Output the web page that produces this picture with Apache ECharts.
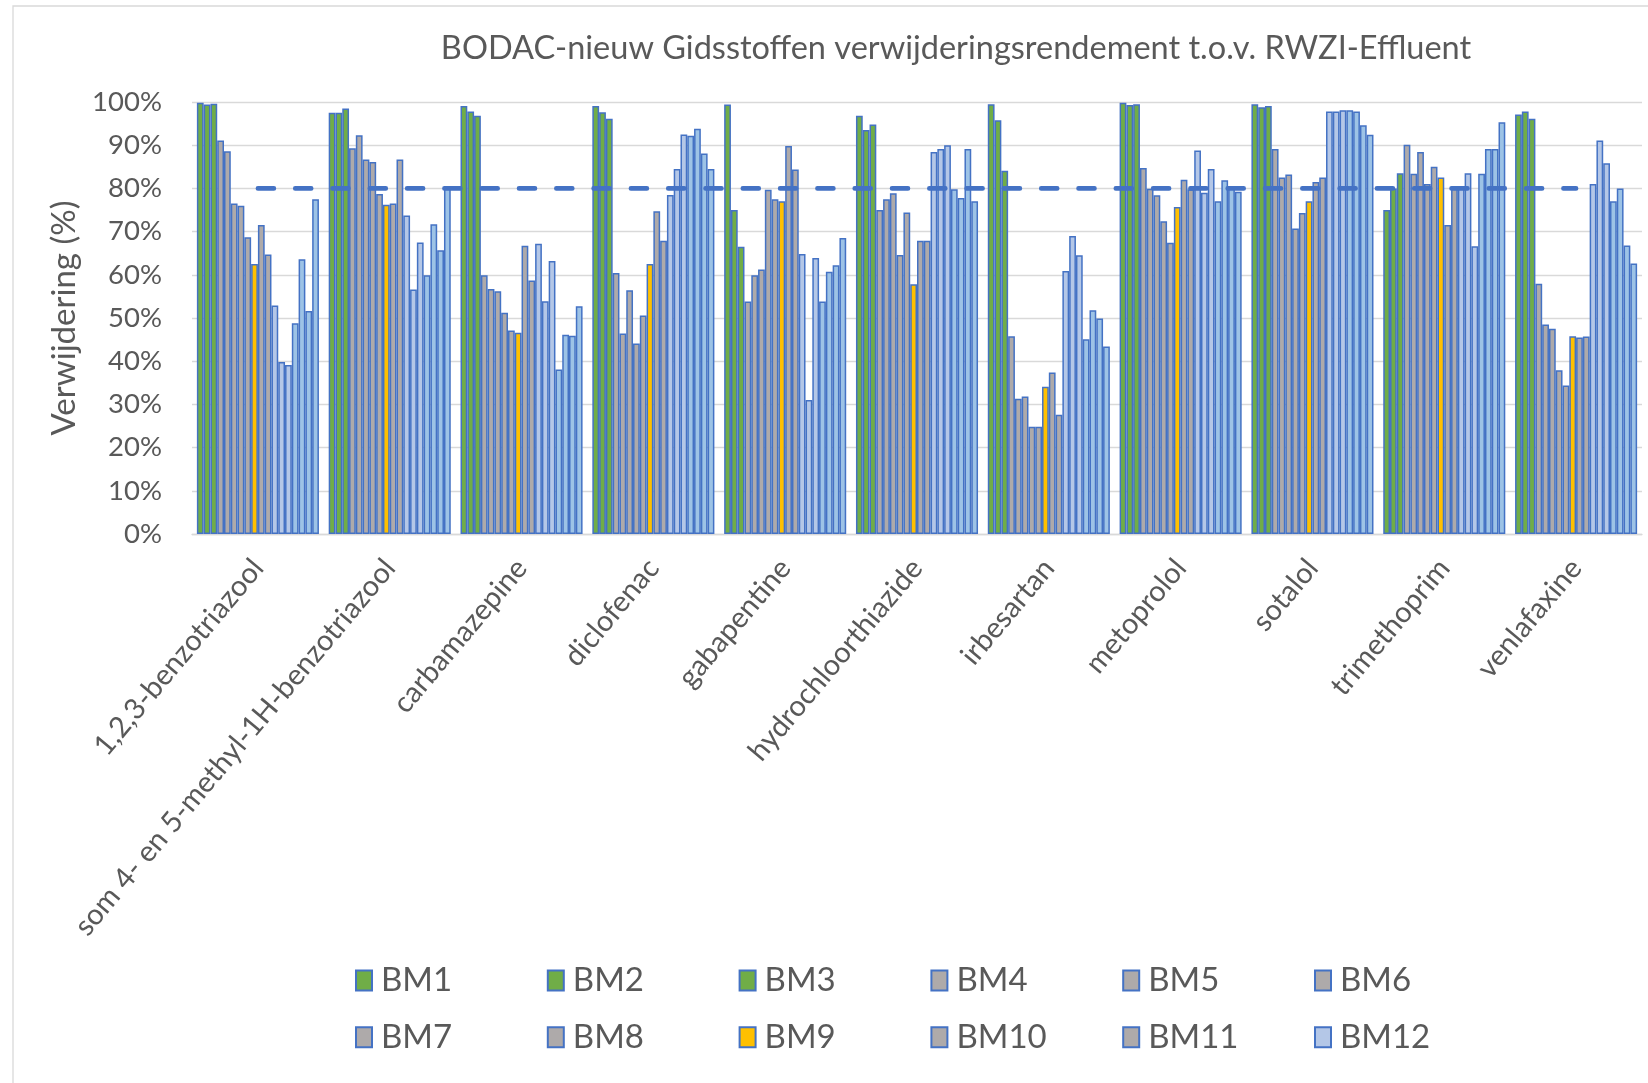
<!DOCTYPE html>
<html>
<head>
<meta charset="utf-8">
<title>BODAC-nieuw Gidsstoffen verwijderingsrendement</title>
<script src="https://cdn.jsdelivr.net/npm/echarts@6/dist/echarts.min.js"></script>
<style>
  html, body { margin: 0; padding: 0; background: #ffffff; }
  #chart { width: 1648px; height: 1083px; }
</style>
</head>
<body>
<div id="chart"></div>
<script>
// Compounds (categories on the x axis)
const categories = [
  '1,2,3-benzotriazool',
  'som 4- en 5-methyl-1H-benzotriazool',
  'carbamazepine',
  'diclofenac',
  'gabapentine',
  'hydrochloorthiazide',
  'irbesartan',
  'metoprolol',
  'sotalol',
  'trimethoprim',
  'venlafaxine'
];

// Removal efficiency (%) per sampling moment, one value per compound
const BM1  = [99.8, 97.5, 99.1, 99.1, 99.4, 96.8, 99.5, 99.8, 99.5, 75.0, 97.1];
const BM2  = [99.4, 97.5, 97.8, 97.6, 75.0, 93.5, 95.8, 99.3, 98.8, 80.0, 97.8];
const BM3  = [99.6, 98.5, 96.8, 96.1, 66.5, 94.8, 84.1, 99.5, 99.1, 83.5, 96.1];
const BM4  = [91.1, 89.3, 59.9, 60.4, 53.8, 75.0, 45.8, 84.7, 89.1, 90.1, 57.9];
const BM5  = [88.6, 92.3, 56.7, 46.4, 59.9, 77.5, 31.3, 79.9, 82.5, 83.4, 48.5];
const BM6  = [76.5, 86.7, 56.2, 56.4, 61.2, 78.9, 31.8, 78.4, 83.2, 88.4, 47.5];
const BM7  = [76.0, 86.1, 51.2, 44.1, 79.7, 64.6, 24.8, 72.4, 70.7, 81.0, 37.9];
const BM8  = [68.7, 78.7, 47.1, 50.6, 77.5, 74.4, 24.8, 67.4, 74.3, 85.0, 34.4];
const BM9  = [62.5, 76.2, 46.6, 62.5, 77.0, 57.8, 34.1, 75.7, 77.0, 82.5, 45.8];
const BM10 = [71.5, 76.5, 66.7, 74.7, 89.8, 67.9, 37.4, 82.0, 81.5, 71.5, 45.5];
const BM11 = [64.7, 86.7, 58.7, 67.9, 84.4, 67.9, 27.6, 79.8, 82.5, 80.0, 45.7];
const BM12 = [52.9, 73.7, 67.2, 78.5, 64.8, 88.4, 60.9, 88.8, 97.8, 80.0, 81.0];
const BM13 = [39.8, 56.6, 53.9, 84.5, 31.0, 89.1, 69.0, 79.0, 97.8, 83.5, 91.1];
const BM14 = [39.1, 67.5, 63.2, 92.5, 63.9, 90.0, 64.5, 84.5, 98.1, 66.6, 85.8];
const BM15 = [48.8, 59.9, 38.1, 92.2, 53.8, 79.8, 45.1, 77.0, 98.1, 83.4, 77.0];
const BM16 = [63.6, 71.7, 46.1, 93.8, 60.7, 77.8, 51.8, 81.9, 97.8, 89.1, 80.0];
const BM17 = [51.6, 65.7, 45.9, 88.1, 62.2, 89.1, 49.9, 80.0, 94.6, 89.1, 66.8];
const BM18 = [77.5, 80.4, 52.7, 84.5, 68.5, 77.0, 43.4, 79.2, 92.4, 95.3, 62.6];

// Target removal level (%)
const target = [80, 80, 80, 80, 80, 80, 80, 80, 80, 80, 80];

// Y axis ticks
const yMin = 0, yMax = 100, yStep = 10;

const seriesNames = ['BM1','BM2','BM3','BM4','BM5','BM6','BM7','BM8','BM9',
                     'BM10','BM11','BM12','BM13','BM14','BM15','BM16','BM17','BM18'];
const seriesData  = [BM1, BM2, BM3, BM4, BM5, BM6, BM7, BM8, BM9,
                     BM10, BM11, BM12, BM13, BM14, BM15, BM16, BM17, BM18];
// Names listed in the legend
const legendNames = ['BM1','BM2','BM3','BM4','BM5','BM6','BM7','BM8','BM9','BM10','BM11','BM12'];

const GREEN = '#70AD47', GREY = '#AEAAAA', YELLOW = '#FFC000',
      LIGHT = '#B4C7E7', SKY = '#9DC3E6', EDGE = '#4472C4';
const fillFor = [GREEN, GREEN, GREEN,
                 GREY, GREY, GREY, GREY, GREY, YELLOW, GREY, GREY,
                 LIGHT, LIGHT, LIGHT, SKY, SKY, SKY, SKY];

const FONT = 'Lato';
const TXT = '#595959';

const barSeries = seriesNames.map((name, i) => ({
  name: name,
  type: 'bar',
  data: seriesData[i],
  barGap: '0%',
  barCategoryGap: '7.4%',
  itemStyle: { color: fillFor[i], borderColor: EDGE, borderWidth: 1.5 },
  emphasis: { disabled: true },
  animation: false
}));

const chart = echarts.init(document.getElementById('chart'), null, { renderer: 'canvas' });
chart.setOption({
  backgroundColor: '#ffffff',
  animation: false,
  textStyle: { fontFamily: FONT },
  graphic: [{
    type: 'rect',
    shape: { x: 13, y: 6, width: 1700, height: 1200 },
    style: { fill: 'none', stroke: '#D9D9D9', lineWidth: 1.3 },
    silent: true, z: -10
  }],
  title: {
    text: 'BODAC-nieuw Gidsstoffen verwijderingsrendement t.o.v. RWZI-Effluent',
    left: 951,
    top: 27,
    textAlign: 'center',
    textStyle: { fontFamily: FONT, fontSize: 32.5, fontWeight: 'normal', color: TXT }
  },
  grid: { left: 192, right: 6, top: 102, bottom: 549, containLabel: false },
  legend: {
    data: legendNames,
    left: 350,
    top: 955,
    width: 1170,
    icon: 'rect',
    itemWidth: 16,
    itemHeight: 20,
    itemGap: 15.8,
    selectedMode: false,
    textStyle: { fontFamily: FONT, fontSize: 33, color: TXT, width: 150, padding: [0, 0, 0, 4], lineHeight: 41 }
  },
  xAxis: {
    type: 'category',
    data: categories,
    axisLine: { show: true, lineStyle: { color: '#D9D9D9', width: 1.3 } },
    axisTick: { show: false },
    axisLabel: {
      interval: 0,
      rotate: 50,
      margin: 29,
      align: 'right',
      verticalAlign: 'middle',
      fontFamily: FONT,
      fontSize: 29,
      color: TXT
    }
  },
  yAxis: {
    type: 'value',
    min: yMin,
    max: yMax,
    interval: yStep,
    name: 'Verwijdering (%)',
    nameLocation: 'middle',
    nameRotate: 90,
    nameGap: 108,
    nameTextStyle: { fontFamily: FONT, fontSize: 33, color: TXT },
    axisLine: { show: false },
    axisTick: { show: false },
    splitLine: { lineStyle: { color: '#D9D9D9', width: 1.3 } },
    axisLabel: { formatter: '{value}%', margin: 30, fontFamily: FONT, fontSize: 27.5, color: TXT }
  },
  series: barSeries.concat([{
    name: 'doel',
    type: 'line',
    data: target,
    symbol: 'none',
    z: 5,
    lineStyle: { color: EDGE, width: 4.6, type: [16, 21.3], cap: 'round' },
    emphasis: { disabled: true },
    animation: false
  }])
});
</script>
</body>
</html>
